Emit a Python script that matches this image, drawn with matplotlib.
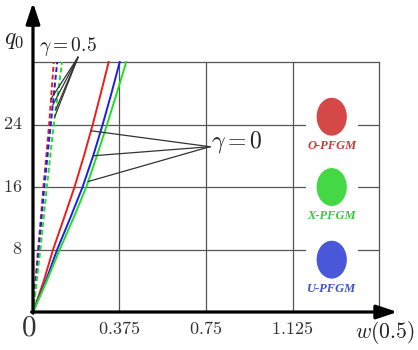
import numpy as np
import matplotlib
matplotlib.use("Agg")
import matplotlib.pyplot as plt
from matplotlib.patches import Ellipse, Rectangle

plt.rcParams['mathtext.fontset'] = 'cm'
plt.rcParams['font.family'] = 'serif'
plt.rcParams['font.serif'] = ['Liberation Serif', 'DejaVu Serif']

q0 = [0, 4, 8, 12, 16, 20, 24, 28, 32]

# gamma = 0 (solid)
w_o_g0 = [0, 0.047, 0.087, 0.134, 0.180, 0.221, 0.259, 0.294, 0.328]
w_u_g0 = [0, 0.056, 0.105, 0.161, 0.215, 0.261, 0.302, 0.340, 0.376]
w_x_g0 = [0, 0.060, 0.116, 0.175, 0.231, 0.277, 0.321, 0.363, 0.404]

# gamma = 0.5 (dashed)
w_o_g5 = [0, 0.011, 0.022, 0.034, 0.045, 0.058, 0.070, 0.080, 0.090]
w_u_g5 = [0, 0.013, 0.025, 0.037, 0.049, 0.063, 0.077, 0.091, 0.105]
w_x_g5 = [0, 0.016, 0.032, 0.046, 0.060, 0.075, 0.090, 0.108, 0.126]

x_ticks = [0.375, 0.75, 1.125, 1.5]
x_tick_labels = ['0.375', '0.75', '1.125']
y_ticks = [8, 16, 24, 32]
y_tick_labels = ['8', '16', '24']

models = ['O-PFGM', 'X-PFGM', 'U-PFGM']
model_q0 = [25.0, 16.0, 6.7]   # where each legend disc sits
line_col = {'O-PFGM': '#f01c1c', 'X-PFGM': '#1ee01e', 'U-PFGM': '#1c1cf0'}
disc_col = {'O-PFGM': '#d44848', 'X-PFGM': '#44d844', 'U-PFGM': '#4858d8'}
text_col = {'O-PFGM': '#c83c3c', 'X-PFGM': '#3cc83c', 'U-PFGM': '#4050d0'}

fig = plt.figure(figsize=(4.18, 3.5), dpi=100)
ax = fig.add_axes([0, 0, 1, 1])
ax.set_xlim(-0.143, 1.669)
ax.set_ylim(-4.864, 39.94)
ax.axis('off')

# grid box
for yt in y_ticks:
    ax.plot([0, 1.5], [yt, yt], color='#555555', lw=0.9, zorder=1)
for xt in x_ticks:
    ax.plot([xt, xt], [0, 32], color='#555555', lw=0.9, zorder=1)

# white patch behind the legend discs
ax.add_patch(Rectangle((1.183, 2.0), 0.225, 26.0, facecolor='white',
                       edgecolor='none', zorder=2))

curves = {
    'O-PFGM': (w_o_g0, w_o_g5),
    'X-PFGM': (w_x_g0, w_x_g5),
    'U-PFGM': (w_u_g0, w_u_g5),
}
for m in ['O-PFGM', 'U-PFGM', 'X-PFGM']:
    solid, dashed = curves[m]
    ax.plot(solid, q0, color=line_col[m], lw=1.4, zorder=3)
    ax.plot(dashed, q0, color=line_col[m], lw=1.4, ls=(0, (2.5, 1.5)), zorder=3)

# annotation lines for gamma = 0
g0_from = (0.767, 21.16)
for m, qq in zip(['O-PFGM', 'U-PFGM', 'X-PFGM'], [23.2, 20.0, 16.7]):
    ww = np.interp(qq, q0, curves[m][0])
    ax.plot([g0_from[0], ww], [g0_from[1], qq], color='#333333', lw=0.9, zorder=4)
ax.text(0.772, 21.8, r'$\gamma = 0$', fontsize=17, ha='left', va='center', color='#222222')

# annotation lines for gamma = 0.5
g5_from = (0.195, 32.6)
for m, qq in zip(['O-PFGM', 'U-PFGM', 'X-PFGM', 'X-PFGM'], [27.3, 26.5, 25.9, 25.0]):
    ww = np.interp(qq, q0, curves[m][1])
    ax.plot([g5_from[0], ww], [g5_from[1], qq], color='#333333', lw=0.9, zorder=4)
ax.text(0.1495, 34.0, r'$\gamma = 0.5$', fontsize=14, ha='center', va='center', color='#222222')

# axes with arrows
ax.annotate('', xy=(0, 39.6), xytext=(0, -0.15),
            arrowprops=dict(arrowstyle='-|>,head_length=0.9,head_width=0.3',
                            lw=2.3, color='black', mutation_scale=14, shrinkA=0, shrinkB=0),
            zorder=6)
ax.annotate('', xy=(1.58, 0), xytext=(-0.006, 0),
            arrowprops=dict(arrowstyle='-|>,head_length=0.9,head_width=0.3',
                            lw=2.3, color='black', mutation_scale=14, shrinkA=0, shrinkB=0),
            zorder=6)

# tick labels
for xt, lab in zip(x_ticks, x_tick_labels):
    ax.text(xt, -2.3, '$' + lab + '$', fontsize=13, ha='center', va='center', color='#333333')
for yt, lab in zip(y_ticks, y_tick_labels):
    ax.text(-0.045, yt, '$' + lab + '$', fontsize=13, ha='right', va='center', color='#333333')
ax.text(-0.02, -2.05, '$0$', fontsize=21, ha='center', va='center', color='#333333')

# axis labels
ax.text(-0.082, 34.8, r'$q_0$', fontsize=17, ha='center', va='center', color='#222222')
ax.text(1.526, -2.56, r'$w(0.5)$', fontsize=15.5, ha='center', va='center', color='#222222')

# legend discs
for m, qq in zip(models, model_q0):
    ax.add_patch(Ellipse((1.295, qq), 0.136, 5.0, facecolor=disc_col[m],
                         edgecolor='white', lw=0.8, zorder=5))
    ax.text(1.295, qq - 3.7, m, fontsize=9, fontweight='bold', fontstyle='italic',
            color=text_col[m], ha='center', va='center', zorder=5)

fig.savefig('out.png', dpi=100)
